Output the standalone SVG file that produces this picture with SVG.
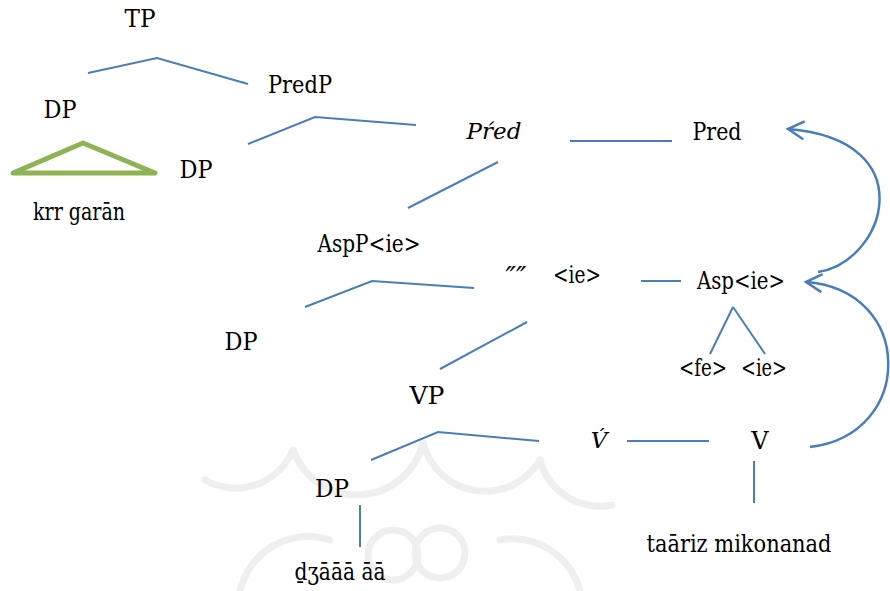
<svg xmlns="http://www.w3.org/2000/svg" width="890" height="591" viewBox="0 0 890 591">
<style>
text{fill:#000;text-anchor:middle}
.ln{fill:none;stroke:#4a7ebb;stroke-width:2}
.arc{fill:none;stroke:#4a7ebb;stroke-width:2.5}
.wm{fill:none;stroke:#efefef;stroke-width:7;stroke-linecap:round}
</style>
<defs>
<marker id="arr" markerUnits="userSpaceOnUse" markerWidth="30" markerHeight="30" viewBox="-20 -15 30 30" refX="0" refY="0" orient="auto" overflow="visible">
<path d="M-16,-9 L0,0 L-16,9" fill="none" stroke="#4a7ebb" stroke-width="2.5"/>
</marker>
</defs>
<rect width="890" height="591" fill="#fff"/>
<g id="watermark">
<path class="wm" d="M293,450 A68,68 0 0 0 423,443"/>
<path class="wm" d="M423,443 A64,64 0 0 0 540,460"/>
<path class="wm" d="M205,480 A62,62 0 0 0 293,450"/>
<path class="wm" d="M540,460 A62,62 0 0 0 612,505"/>
<circle class="wm" cx="393" cy="555" r="25"/>
<circle class="wm" cx="440" cy="553" r="25"/>
<path class="wm" d="M240,591 A70,70 0 0 1 330,540"/>
<path class="wm" d="M500,540 A70,70 0 0 1 580,591"/>
</g>
<g id="connectors">
<polyline class="ln" points="88,73 157,58 248,84"/>
<polyline class="ln" points="248,144 315,117 416,125"/>
<line class="ln" x1="570" y1="141" x2="672" y2="141"/>
<line class="ln" x1="498" y1="162" x2="408" y2="208"/>
<polyline class="ln" points="305,307 372,281 474,288"/>
<line class="ln" x1="641" y1="281" x2="681" y2="281"/>
<line class="ln" x1="527" y1="322" x2="440" y2="369"/>
<line class="ln" x1="733" y1="307" x2="710" y2="354"/>
<line class="ln" x1="733" y1="307" x2="765" y2="354"/>
<polyline class="ln" points="371,460 438,432 539,441"/>
<line class="ln" x1="627" y1="441" x2="709" y2="441"/>
<line class="ln" x1="754" y1="461" x2="754" y2="503"/>
<line class="ln" x1="360" y1="505" x2="360" y2="547"/>
<path class="arc" d="M818,272 C885,262 925,140 788,129" marker-end="url(#arr)"/>
<path class="arc" d="M810,447 C915,435 915,290 806,282" marker-end="url(#arr)"/>
</g>
<g id="TP"><text x="140" y="27" font-family="'DejaVu Serif', serif" font-size="24" textLength="31" lengthAdjust="spacingAndGlyphs">TP</text></g>
<g id="DP1"><text x="60" y="118" font-family="'DejaVu Serif', serif" font-size="24" textLength="33" lengthAdjust="spacingAndGlyphs">DP</text></g>
<g id="triangle"><polygon points="13,173 83,143 155,173" fill="none" stroke="#8fb354" stroke-width="5" stroke-linejoin="round"/></g>
<g id="DP2"><text x="196" y="178" font-family="'DejaVu Serif', serif" font-size="24" textLength="33" lengthAdjust="spacingAndGlyphs">DP</text></g>
<g id="krr"><text x="79" y="220" font-family="'DejaVu Serif', serif" font-size="24" textLength="92" lengthAdjust="spacingAndGlyphs">krr garān</text></g>
<g id="PredP"><text x="300" y="93" font-family="'DejaVu Serif', serif" font-size="24" textLength="64" lengthAdjust="spacingAndGlyphs">PredP</text></g>
<g id="Predbar"><text x="494" y="139" font-family="'DejaVu Serif', serif" font-style="italic" font-size="23">Pŕed</text></g>
<g id="Pred"><text x="717" y="140" font-family="'DejaVu Serif', serif" font-size="24" textLength="49" lengthAdjust="spacingAndGlyphs">Pred</text></g>
<g id="AspP"><text x="369" y="252" font-family="'DejaVu Serif', serif" font-size="24" textLength="103" lengthAdjust="spacingAndGlyphs">AspP&lt;ie&gt;</text></g>
<g id="Aspbar"><text x="516" y="287" font-family="'DejaVu Serif', serif" font-style="italic" font-size="28">″″</text></g>
<g id="ie1"><text x="577" y="283" font-family="'DejaVu Serif', serif" font-size="24" textLength="48" lengthAdjust="spacingAndGlyphs">&lt;ie&gt;</text></g>
<g id="Asp"><text x="741" y="289" font-family="'DejaVu Serif', serif" font-size="24" textLength="88" lengthAdjust="spacingAndGlyphs">Asp&lt;ie&gt;</text></g>
<g id="DP3"><text x="241" y="350" font-family="'DejaVu Serif', serif" font-size="24" textLength="33" lengthAdjust="spacingAndGlyphs">DP</text></g>
<g id="fe"><text x="703" y="376" font-family="'DejaVu Serif', serif" font-size="24" textLength="48" lengthAdjust="spacingAndGlyphs">&lt;fe&gt;</text></g>
<g id="ie2"><text x="764" y="376" font-family="'DejaVu Serif', serif" font-size="24" textLength="46" lengthAdjust="spacingAndGlyphs">&lt;ie&gt;</text></g>
<g id="VP"><text x="427" y="404" font-family="'DejaVu Serif', serif" font-size="24" textLength="35" lengthAdjust="spacingAndGlyphs">VP</text></g>
<g id="Vbar"><text x="599" y="448" font-family="'DejaVu Serif', serif" font-style="italic" font-size="23">V́</text></g>
<g id="V"><text x="760" y="449" font-family="'DejaVu Serif', serif" font-size="24">V</text></g>
<g id="DP4"><text x="332" y="497" font-family="'DejaVu Serif', serif" font-size="24" textLength="34" lengthAdjust="spacingAndGlyphs">DP</text></g>
<g id="dz"><text x="340" y="580" font-family="'DejaVu Serif', serif" font-size="24" textLength="91" lengthAdjust="spacingAndGlyphs">ḏʒāāā āā</text></g>
<g id="taariz"><text x="739" y="552" font-family="'DejaVu Serif', serif" font-size="24" textLength="185" lengthAdjust="spacingAndGlyphs">taāriz mikonanad</text></g>
</svg>
